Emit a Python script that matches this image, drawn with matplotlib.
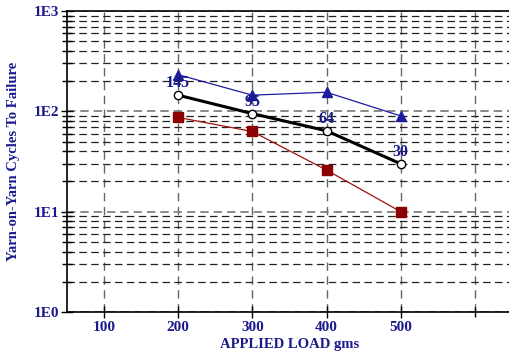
import matplotlib
matplotlib.use('Agg')
import matplotlib.pyplot as plt
from matplotlib.ticker import LogLocator, FixedLocator, NullFormatter

# datos
cargas = [200, 300, 400, 500]
ciclos_azul = [232, 145, 155, 90]
ciclos_medio = [145, 95, 64, 30]
ciclos_rojo = [87, 63, 26, 10]
etiquetas_medio = ['145', '95', '64', '30']
x_ticks = [100, 200, 300, 400, 500]
y_ticks = [1, 10, 100, 1000]
y_tick_labels = ['1E0', '1E1', '1E2', '1E3']

azul_texto = '#1a1a8c'

plt.rcParams['font.family'] = ['Liberation Serif', 'DejaVu Serif']
plt.rcParams['font.weight'] = 'bold'

fig = plt.figure(figsize=(5.1, 3.55), dpi=100)
ax = fig.add_axes([0.131, 0.121, 0.873, 0.848])

ax.set_yscale('log')
ax.set_xlim(50, 650)
ax.set_ylim(1, 1000)

ax.plot(cargas, ciclos_azul, color='#1c1c9c', linewidth=0.9, marker='^',
        markersize=7, zorder=4)
ax.plot(cargas, ciclos_rojo, color='#a01010', linewidth=0.9, marker='s',
        markersize=6.5, markerfacecolor='#8b0000', markeredgecolor='#8b0000', zorder=4)
ax.plot(cargas, ciclos_medio, color='black', linewidth=2.2, marker='o',
        markersize=6, markerfacecolor='white', markeredgecolor='black',
        markeredgewidth=1, zorder=5)

for xv, yv, txt in zip(cargas, ciclos_medio, etiquetas_medio):
    ax.annotate(txt, (xv, yv), xytext=(0, 8.5), textcoords='offset points',
                ha='center', va='center', color=azul_texto, fontsize=11.5,
                fontweight='bold', zorder=6)

ax.set_xticks(x_ticks)
ax.xaxis.set_minor_locator(FixedLocator([600]))
ax.set_yticks(y_ticks)
ax.set_yticklabels(y_tick_labels)
ax.yaxis.set_minor_locator(LogLocator(base=10, subs=range(2, 10)))
ax.yaxis.set_minor_formatter(NullFormatter())

ax.tick_params(axis='both', which='major', direction='inout', length=9, width=1,
               labelsize=11, labelcolor=azul_texto)
ax.tick_params(axis='both', which='minor', direction='inout', length=7, width=1)
ax.tick_params(axis='x', pad=2)
ax.tick_params(axis='y', pad=1)

ax.grid(True, axis='x', which='both', color='#666666', linestyle=(0, (6, 4)), linewidth=1)
ax.grid(True, axis='y', which='major', color='#777777', linestyle=(0, (5, 3)), linewidth=1.2)
ax.grid(True, axis='y', which='minor', color='#222222', linestyle=(0, (6, 3.5)), linewidth=0.9)

for lado in ['left', 'bottom', 'top', 'right']:
    ax.spines[lado].set_linewidth(1.2)

ax.set_xlabel('APPLIED LOAD gms', fontsize=10.5, fontweight='bold', color=azul_texto, labelpad=3)
ax.set_ylabel('Yarn-on-Yarn Cycles To Failure', fontsize=10.5, fontweight='bold',
              color=azul_texto, labelpad=9.5)

fig.savefig('out.png', dpi=100)
